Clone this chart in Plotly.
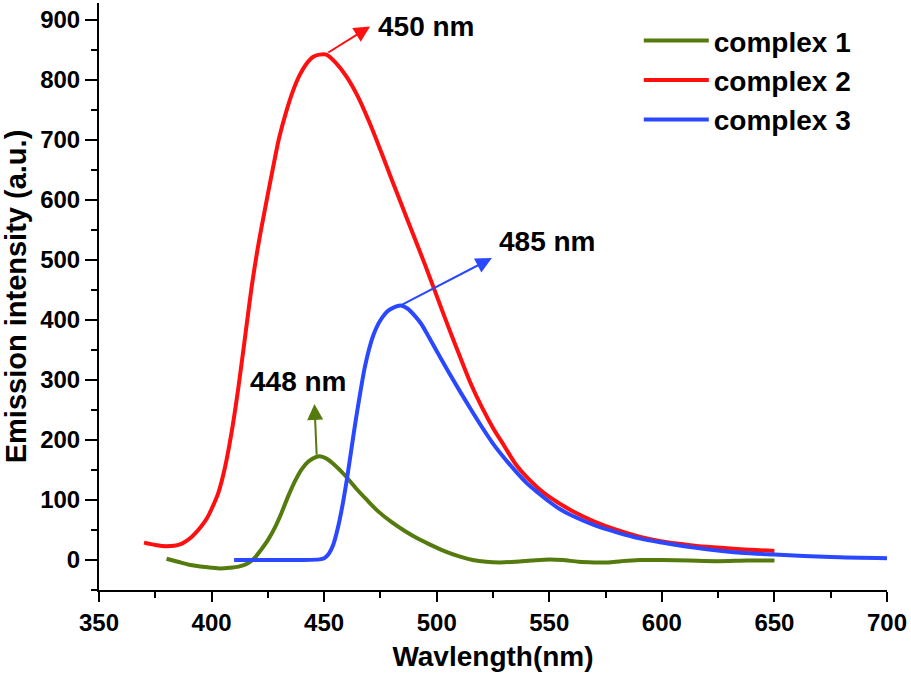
import plotly.graph_objects as go

# complex 1 (olive green)
wl1 = [380, 385, 390, 395, 400, 404, 408, 412, 416, 419, 422, 425, 428, 431, 434, 437, 440, 443, 446, 448,
       451, 455, 459, 464, 469, 474, 480, 486, 492, 498, 504, 510, 516, 522, 528, 535, 542, 550, 556, 563,
       570, 576, 582, 590, 600, 612, 625, 638, 650]
em1 = [2, -3, -8, -11, -13, -14, -13, -11, -6, 3, 17, 33, 53, 78, 106, 131, 151, 164, 171, 173,
       169, 157, 142, 120, 100, 81, 63, 48, 35, 24, 14, 6, 0, -3, -4, -3, -1, 1, 0, -3,
       -4, -4, -2, 0, 0, -1, -2, -1, -1]

# complex 2 (red)
wl2 = [370, 375, 380, 386, 391, 395, 398, 400, 403, 406, 409, 412, 415, 418, 421, 424, 427, 430, 433, 436,
       439, 442, 445, 448, 451, 455, 460, 465, 470, 475, 480, 485, 490, 495, 500, 505, 510, 515, 520, 525,
       530, 535, 540, 545, 550, 560, 570, 580, 590, 600, 610, 620, 635, 650]
em2 = [29, 25, 23, 26, 38, 54, 70, 85, 112, 155, 215, 290, 375, 460, 530, 590, 648, 703, 745, 780,
       807, 826, 838, 842, 842, 829, 805, 772, 730, 683, 634, 586, 538, 490, 440, 390, 342, 295, 255, 220,
       190, 160, 138, 120, 105, 82, 64, 50, 39, 31, 26, 22, 18, 15]

# complex 3 (blue)
wl3 = [410, 420, 430, 440, 448, 450, 452, 454, 456, 458, 460, 462, 464, 466, 468, 470, 472, 474, 476, 478,
       481, 484, 487, 490, 493, 496, 500, 505, 510, 515, 520, 525, 530, 535, 540, 545, 550, 555, 560, 570,
       580, 590, 600, 610, 620, 635, 650, 675, 700]
em3 = [0, 0, 0, 0, 1, 3, 10, 25, 52, 88, 132, 182, 232, 278, 320, 352, 376, 393, 405, 414,
       421, 424, 419, 408, 394, 375, 348, 315, 283, 252, 222, 194, 170, 148, 128, 112, 97, 84, 74, 58,
       46, 36, 29, 23, 18, 12, 9, 5, 3]

series_names = ["complex 1", "complex 2", "complex 3"]
colors = ["#557a0e", "#ff1010", "#2a48ff"]

# peak labels with arrow head, arrow tail and label position (data units)
peak_labels = ["448 nm", "450 nm", "485 nm"]
arrow_heads = [(445.7, 260), (470.4, 889), (524.5, 503)]
arrow_tails = [(446.7, 173), (451.2, 844), (484, 424)]
label_pos = [(438.8, 297), (495.6, 889), (549, 531)]

x_ticks = [350, 400, 450, 500, 550, 600, 650, 700]
y_ticks = [0, 100, 200, 300, 400, 500, 600, 700, 800, 900]

FONT = "Liberation Sans"

fig = go.Figure()
for wl, em, name, col in zip([wl1, wl2, wl3], [em1, em2, em3], series_names, colors):
    fig.add_trace(go.Scatter(x=wl, y=em, mode="lines", name=name,
                             line=dict(color=col, width=4, shape="spline", smoothing=0.8)))

for txt, (hx, hy), (tx, ty), (lx, ly), col in zip(peak_labels, arrow_heads, arrow_tails, label_pos, colors):
    fig.add_annotation(x=hx, y=hy, ax=tx, ay=ty, xref="x", yref="y", axref="x", ayref="y",
                       text="", showarrow=True, arrowhead=2, arrowsize=1.6, arrowwidth=2,
                       arrowcolor=col, standoff=0, startstandoff=0)
    fig.add_annotation(x=lx, y=ly, xref="x", yref="y", text=txt, showarrow=False,
                       font=dict(family=FONT, size=28, color="black", weight="bold"))

axis_common = dict(showline=True, linecolor="black", linewidth=2, ticks="outside",
                   tickcolor="black", tickwidth=2, showgrid=False, zeroline=False,
                   automargin=False, mirror=False,
                   tickfont=dict(family=FONT, size=24, color="black", weight="bold"))

fig.update_xaxes(range=[350, 700], tickvals=x_ticks, ticklen=10,
                 minor=dict(dtick=25, tick0=350, ticklen=6, ticks="outside", tickcolor="black", tickwidth=2),
                 title=dict(text="Wavlength(nm)", font=dict(family=FONT, size=28, color="black", weight="bold"),
                            standoff=12),
                 **axis_common)
fig.update_yaxes(range=[-50, 928], tickvals=y_ticks, ticklen=12,
                 minor=dict(dtick=50, tick0=0, ticklen=6, ticks="outside", tickcolor="black", tickwidth=2),
                 title=dict(text="Emission intensity (a.u.)", font=dict(family=FONT, size=29, color="black", weight="bold"),
                            standoff=6),
                 **axis_common)

fig.update_layout(
    width=911, height=679,
    margin=dict(l=99, r=24, t=3, b=89),
    paper_bgcolor="white", plot_bgcolor="white",
    showlegend=True,
    legend=dict(x=0.685, y=0.978, xanchor="left", yanchor="top", bgcolor="rgba(0,0,0,0)",
                font=dict(family=FONT, size=28, color="black", weight="bold"),
                itemwidth=65, tracegroupgap=0),
)

fig.write_html("out.html", config={"displayModeBar": False},
               post_script="document.body.style.margin='0';")
